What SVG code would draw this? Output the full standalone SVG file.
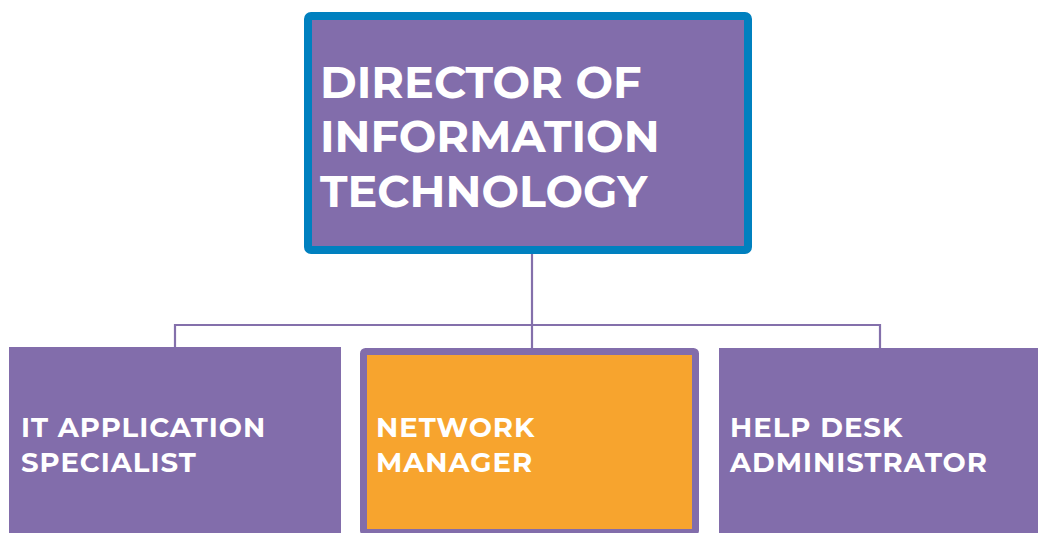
<svg xmlns="http://www.w3.org/2000/svg" width="1038" height="533" viewBox="0 0 1038 533">
<style>
.lbl{font-family:"Montserrat","Liberation Sans",Arial,sans-serif;font-weight:bold;fill:#ffffff}
.big{font-size:44.5px;letter-spacing:0}
.sm{font-size:27.5px;letter-spacing:1px}
.conn{fill:none;stroke:#8470ab;stroke-width:2.2}
</style>
<rect width="1038" height="533" fill="#ffffff"/>
<g id="connectors">
<path class="conn" d="M532 252 V349"/>
<path class="conn" d="M175 348 V325 H880 V349"/>
</g>
<g id="director">
<rect x="308" y="16" width="440" height="234" rx="3" fill="#826dab" stroke="#0080bf" stroke-width="8"/>
<text class="lbl big" x="320" y="98">DIRECTOR OF</text>
<text class="lbl big" x="320" y="152">INFORMATION</text>
<text class="lbl big" x="320" y="207">TECHNOLOGY</text>
</g>
<g id="it-application-specialist">
<rect x="9" y="347" width="332" height="190" fill="#826dab"/>
<text class="lbl sm" x="21" y="437">IT APPLICATION</text>
<text class="lbl sm" x="21" y="472">SPECIALIST</text>
</g>
<g id="network-manager">
<rect x="363.5" y="351.5" width="332" height="181" rx="2" fill="#f7a42e" stroke="#826dab" stroke-width="7"/>
<text class="lbl sm" x="376" y="437">NETWORK</text>
<text class="lbl sm" x="376" y="472">MANAGER</text>
</g>
<g id="help-desk-administrator">
<rect x="719" y="348" width="325" height="190" fill="#826dab"/>
<text class="lbl sm" x="730" y="437">HELP DESK</text>
<text class="lbl sm" x="730" y="472">ADMINISTRATOR</text>
</g>
</svg>
